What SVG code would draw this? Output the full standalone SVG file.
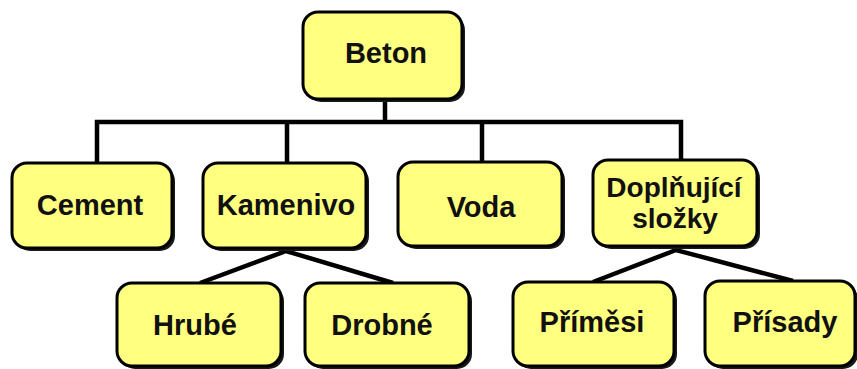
<svg xmlns="http://www.w3.org/2000/svg" width="857" height="369" viewBox="0 0 857 369">
<style>
.box{fill:#FFFF80;stroke:#000;stroke-width:3}
.sh{fill:#1a1a1a}
.t{font-family:"Liberation Sans",Arial,sans-serif;font-weight:bold;font-size:29px;fill:#111;text-anchor:middle}
.c{stroke:#000;stroke-width:4.5;fill:none}
</style>
<rect width="857" height="369" fill="#fff"/>
<g id="connectors">
<polyline class="c" points="385,100 385,122"/>
<polyline class="c" points="97,163 97,122 681,122 681,160" stroke-linejoin="miter"/>
<line class="c" x1="287" y1="122" x2="287" y2="163"/>
<line class="c" x1="482" y1="122" x2="482" y2="162"/>
<polyline class="c" points="200,283 286,251 393,283"/>
<polyline class="c" points="593,282 676,250 793,281"/>
</g>
<g id="beton"><rect class="sh" x="306" y="15" width="159" height="87" rx="15"/><rect class="box" x="303" y="12" width="159" height="87" rx="15"/><text class="t" x="386" y="63">Beton</text></g>
<g id="cement"><rect class="sh" x="15" y="166" width="160" height="85" rx="15"/><rect class="box" x="12" y="163" width="160" height="85" rx="15"/><text class="t" x="90" y="215">Cement</text></g>
<g id="kamenivo"><rect class="sh" x="206" y="166" width="163" height="85" rx="15"/><rect class="box" x="203" y="163" width="163" height="85" rx="15"/><text class="t" x="286" y="215">Kamenivo</text></g>
<g id="voda"><rect class="sh" x="401" y="165" width="164" height="84" rx="15"/><rect class="box" x="398" y="162" width="164" height="84" rx="15"/><text class="t" x="481" y="217">Voda</text></g>
<g id="doplnujici"><rect class="sh" x="596" y="163" width="164" height="86" rx="15"/><rect class="box" x="593" y="160" width="164" height="86" rx="15"/><text class="t" x="674" y="197" style="font-size:28px">Doplňující</text><text class="t" x="675" y="228" style="font-size:28px">složky</text></g>
<g id="hrube"><rect class="sh" x="120" y="286" width="164" height="83" rx="15"/><rect class="box" x="117" y="283" width="164" height="83" rx="15"/><text class="t" x="195" y="335">Hrubé</text></g>
<g id="drobne"><rect class="sh" x="308" y="286" width="164" height="83" rx="15"/><rect class="box" x="305" y="283" width="164" height="83" rx="15"/><text class="t" x="382" y="335">Drobné</text></g>
<g id="primesi"><rect class="sh" x="516" y="285" width="161" height="84" rx="15"/><rect class="box" x="513" y="282" width="161" height="84" rx="15"/><text class="t" x="592" y="332">Příměsi</text></g>
<g id="prisady"><rect class="sh" x="708" y="284" width="150" height="85" rx="15"/><rect class="box" x="705" y="281" width="150" height="85" rx="15"/><text class="t" x="785" y="332">Přísady</text></g>
</svg>
